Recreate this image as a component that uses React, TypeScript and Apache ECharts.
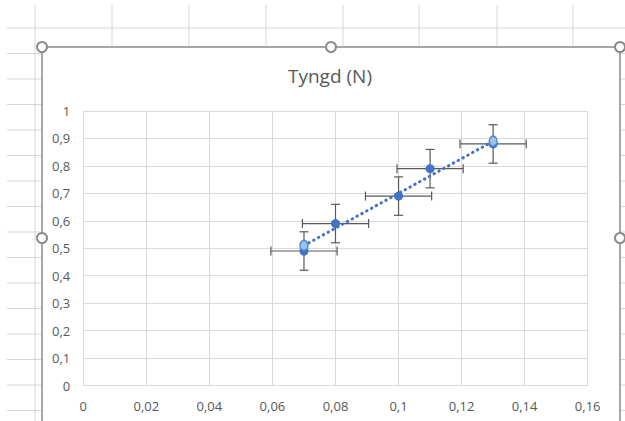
import React, { useEffect, useRef } from "react";
import * as echarts from "echarts";

const xValues = [0.07, 0.08, 0.1, 0.11, 0.13];
const yValues = [0.49, 0.59, 0.69, 0.79, 0.88];
const xErrors = [0.0105, 0.0105, 0.0105, 0.0105, 0.0105];
const yErrors = [0.07, 0.07, 0.07, 0.07, 0.07];
const trendX = [0.07, 0.13];
const trendY = [0.51, 0.89];
const chartTitle = "Tyngd (N)";

const fmt = (v: number) => String(+v.toFixed(2)).replace(".", ",");

export default function App() {
  const ref = useRef<HTMLDivElement>(null);
  useEffect(() => {
    const chart = echarts.init(ref.current!, null, { renderer: "svg" });
    const pts = xValues.map((x, i) => [x, yValues[i]]);
    const errs = xValues.map((x, i) => [x, yValues[i], xErrors[i], yErrors[i]]);
    const trend = trendX.map((x, i) => [x, trendY[i]]);

    const sheet = "#d6d6d6";
    const gfx: any[] = [];
    gfx.push({ type: "line", shape: { x1: 7, y1: 28, x2: 625, y2: 28 }, style: { stroke: sheet, lineWidth: 1 }, silent: true });
    [35].forEach((x) =>
      gfx.push({ type: "line", shape: { x1: x, y1: 5, x2: x, y2: 421 }, style: { stroke: sheet, lineWidth: 1 }, silent: true })
    );
    [112, 189, 266, 343, 419, 497, 573].forEach((x) =>
      gfx.push({ type: "line", shape: { x1: x, y1: 5, x2: x, y2: 46 }, style: { stroke: sheet, lineWidth: 1 }, silent: true })
    );
    for (let k = 0; k < 15; k++) {
      const y = 53.5 + k * 25.5;
      gfx.push({ type: "line", shape: { x1: 7, y1: y, x2: 41, y2: y }, style: { stroke: sheet, lineWidth: 1 }, silent: true });
      gfx.push({ type: "line", shape: { x1: 621, y1: y, x2: 625, y2: y }, style: { stroke: sheet, lineWidth: 1 }, silent: true });
    }
    const frame = "#a6a6a6";
    gfx.push({ type: "polyline", shape: { points: [[42, 421], [42, 47], [620, 47], [620, 421]] }, style: { stroke: frame, lineWidth: 2, fill: "none" }, silent: true });
    [[42, 47], [331, 47], [620, 47], [42, 238], [620, 238]].forEach(([cx, cy]) =>
      gfx.push({ type: "circle", shape: { cx, cy, r: 5 }, style: { stroke: "#8c8c8c", lineWidth: 2, fill: "#fff" }, silent: true, z: 100 })
    );
    gfx.push({
      type: "text",
      x: 330,
      y: 76,
      style: { text: chartTitle, fontFamily: "Open Sans", fontSize: 19, fill: "#595959", align: "center", verticalAlign: "middle" },
    });

    chart.setOption({
      animation: false,
      backgroundColor: "#fff",
      graphic: gfx,
      grid: { left: 83.3, right: 37.3, top: 111, bottom: 35.5, containLabel: false },
      xAxis: {
        type: "value",
        min: 0,
        max: 0.16,
        interval: 0.02,
        axisLine: { show: true, lineStyle: { color: "#d9d9d9", width: 1 } },
        axisTick: { show: false },
        splitLine: { show: true, lineStyle: { color: "#d9d9d9", width: 1 } },
        axisLabel: { formatter: fmt, color: "#595959", fontSize: 13, fontFamily: "Open Sans", margin: 14 },
      },
      yAxis: {
        type: "value",
        min: 0,
        max: 1,
        interval: 0.1,
        axisLine: { show: false },
        axisTick: { show: false },
        splitLine: { show: true, lineStyle: { color: "#d9d9d9", width: 1 } },
        axisLabel: { formatter: fmt, color: "#595959", fontSize: 13, fontFamily: "Open Sans", margin: 13 },
      },
      series: [
        {
          type: "custom",
          z: 1,
          clip: false,
          encode: { x: 0, y: 1 },
          data: errs,
          renderItem: (params: any, api: any) => {
            const x = api.value(0);
            const y = api.value(1);
            const ex = api.value(2);
            const ey = api.value(3);
            const l = api.coord([x - ex, y]);
            const r = api.coord([x + ex, y]);
            const t = api.coord([x, y + ey]);
            const b = api.coord([x, y - ey]);
            const cap = 4.5;
            const st = { stroke: "#595959", lineWidth: 1.2 };
            const ln = (x1: number, y1: number, x2: number, y2: number) => ({ type: "line", shape: { x1, y1, x2, y2 }, style: st });
            return {
              type: "group",
              children: [
                ln(l[0], l[1], r[0], r[1]),
                ln(l[0], l[1] - cap, l[0], l[1] + cap),
                ln(r[0], r[1] - cap, r[0], r[1] + cap),
                ln(t[0], t[1], b[0], b[1]),
                ln(t[0] - cap, t[1], t[0] + cap, t[1]),
                ln(b[0] - cap, b[1], b[0] + cap, b[1]),
              ],
            };
          },
        },
        {
          type: "line",
          z: 2,
          data: trend,
          showSymbol: false,
          symbol: "none",
          lineStyle: { color: "#4472C4", width: 3, type: [0.5, 5], cap: "round" },
        },
        {
          type: "scatter",
          z: 3,
          data: pts,
          symbol: "circle",
          symbolSize: 9,
          itemStyle: { color: "#4472C4", opacity: 1 },
        },
        {
          type: "scatter",
          z: 4,
          data: trend,
          symbol: "circle",
          symbolSize: [8, 10],
          itemStyle: { color: "#9DC3E6", borderColor: "#4A86D8", borderWidth: 1.5, opacity: 1 },
        },
      ],
    });
    return () => chart.dispose();
  }, []);
  return <div ref={ref} style={{ position: "fixed", left: 0, top: 0, width: 625, height: 421 }} />;
}
